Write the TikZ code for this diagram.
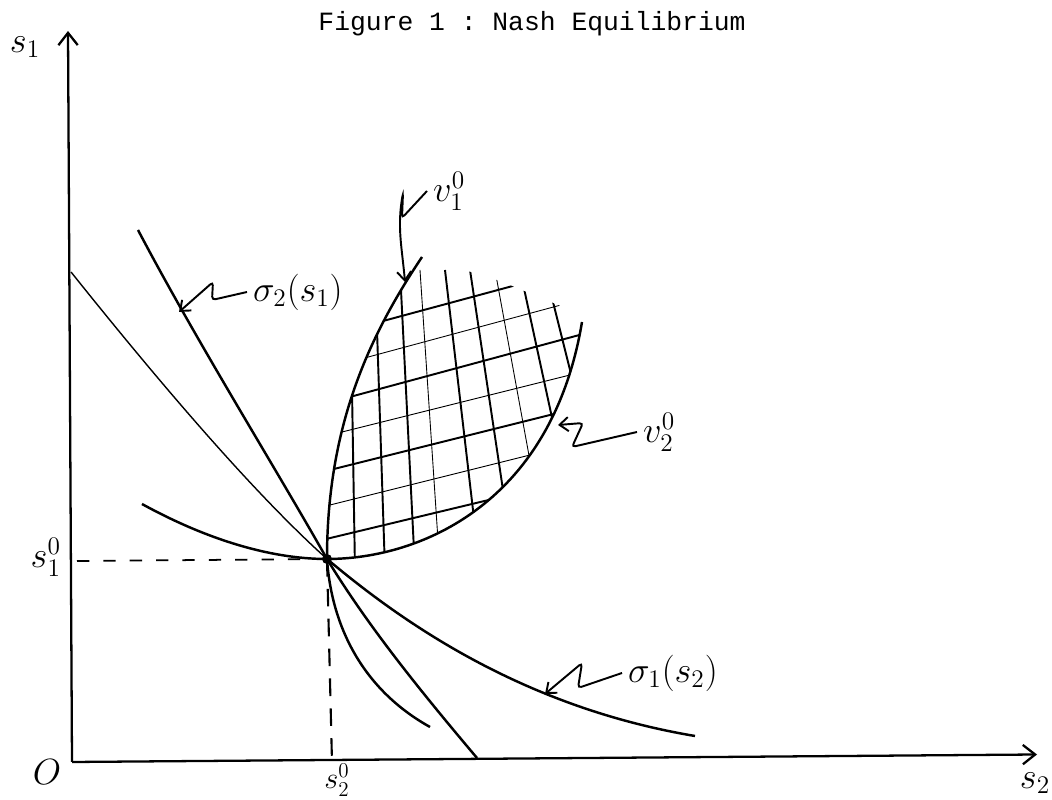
\documentclass[tikz,border=0pt]{standalone}
\usepackage{fontspec}
\setmonofont{Liberation Mono}
\usepackage{amsmath}
\usetikzlibrary{arrows.meta}

\tikzset{
  axis/.style={line width=1.3pt, -{Straight Barb[length=7pt,width=11pt,line width=1.3pt]}},
  curve/.style={line width=1.4pt},
  thincurve/.style={line width=0.8pt},
  leader/.style={line width=1.1pt, rounded corners=2pt, -{Straight Barb[length=5pt,width=8pt,line width=1.1pt]}},
  hatchA/.style={line width=1.1pt},
  hatchB/.style={line width=0.5pt},
  lbl/.style={font=\huge},
}

\begin{document}
\begin{tikzpicture}
            \useasboundingbox (-1.44,-0.76) rectangle (19.6,15.24);

            % title
            \node[font=\ttfamily\fontsize{15}{18}\selectfont] (title) at (9.2,14.76) {Figure 1 : Nash Equilibrium};

            % axes
            \coordinate (orig) at (0,0);
            \draw[axis] (orig) -- (-0.08,14.62);
            \draw[axis] (orig) -- (19.3,0.15);
            \node[lbl] (ylbl) at (-0.94,14.3) {$s_1$};
            \node[lbl] (xlbl) at (19.26,-0.42) {$s_2$};
            \node[lbl] (olbl) at (-0.5,-0.2) {$O$};

            % equilibrium
            \coordinate (eq) at (5.1,4.06);
            \node[lbl, anchor=east] (s1eq) at (-0.1,4.1) {$s_1^0$};
            \node[font=\LARGE] (s2eq) at (5.3,-0.36) {$s_2^0$};
            \draw[line width=1pt, dashed, dash pattern=on 7pt off 8pt] (0.1,4.02) -- (eq);
            \draw[line width=1.2pt, dashed, dash pattern=on 10pt off 7pt] (eq) -- (5.2,0);

            % sigma_1(s_2)
            \draw[thincurve] (-0.02,9.8) .. controls (1.5,7.9) and (3.5,5.5) .. (eq);
            \draw[curve] (eq) .. controls (6.6,2.8) and (9,1.1) .. (12.46,0.52);

            % sigma_2(s_1)
            \draw[curve] (1.32,10.64) .. controls (2.5,8.4) and (4,6) .. (eq)
                         .. controls (5.9,2.75) and (6.9,1.5) .. (8.1,0.08);

            % v_2^0
            \draw[curve] (1.4,5.16) .. controls (2.6,4.5) and (3.9,4.06) .. (eq)
                         .. controls (7.0,4.06) and (9.6,5.2) .. (10.2,8.8);

            % v_1^0
            \draw[curve] (7.0,10.1) .. controls (6.0,8.6) and (5.1,6.8) .. (eq)
                         .. controls (5.2,2.6) and (5.9,1.4) .. (7.16,0.7);

            % hatching of the lens
            \begin{scope}
            \clip (eq) .. controls (5.1,6.8) and (6.0,8.6) .. (7.0,10.1)
              -- (8.56,9.62) -- (10.3,8.9) -- (10.2,8.8)
              .. controls (9.6,5.2) and (7.0,4.06) .. (eq) -- cycle;
            \draw[hatchA] (5,8.49) -- (11,10.11);
            \draw[hatchB] (5,7.85) -- (11,9.47);
            \draw[hatchA] (5,7.15) -- (11,8.77);
            \draw[hatchB] (5,6.5) -- (11,8.0);
            \draw[hatchA] (5,5.8) -- (11,7.3);
            \draw[hatchB] (5,5.1) -- (11,6.6);
            \draw[hatchA] (5,4.44) -- (11,5.88);
            \draw[hatchB] (5,3.84) -- (11,5.28);
            \draw[hatchA] (5.56,9.84) -- (5.66,3.84);
            \draw[hatchA] (6.06,9.84) -- (6.26,3.84);
            \draw[hatchA] (6.56,9.84) -- (6.86,3.84);
            \draw[hatchB] (6.96,9.84) -- (7.36,3.84);
            \draw[hatchA] (7.46,9.84) -- (8.16,3.84);
            \draw[hatchA] (7.96,9.84) -- (8.86,3.84);
            \draw[hatchB] (8.46,9.84) -- (9.56,3.84);
            \draw[hatchA] (8.96,9.84) -- (10.26,3.84);
            \draw[hatchA] (9.46,9.84) -- (10.96,3.84);
            \end{scope}

            \fill (eq) circle (0.1);

            % labels with leaders
            \node[lbl, anchor=west] (sig2) at (3.5,9.4) {$\sigma_2(s_1)$};
            \coordinate (sig2tip) at (2.14,9.0);
            \draw[leader] (sig2.west) -- (2.8,9.24) -- (2.82,9.6) -- (sig2tip);

            \node[lbl, anchor=west] (sig1) at (11.0,1.78) {$\sigma_1(s_2)$};
            \coordinate (sig1tip) at (9.46,1.36);
            \draw[leader] (sig1.west) -- (10.12,1.48) -- (10.2,1.98) -- (sig1tip);

            \node[lbl, anchor=west] (v1) at (7.1,11.42) {$v_1^0$};
            \coordinate (v1tip) at (6.66,9.6);
            \draw[leader] (v1.west) -- (6.6,10.88) -- (6.62,11.38) to[out=-100,in=95] (v1tip);

            \node[lbl, anchor=west] (v2) at (11.3,6.6) {$v_2^0$};
            \coordinate (v2tip) at (9.72,6.74);
            \draw[leader] (v2.west) -- (10.0,6.3) -- (10.22,6.78) -- (v2tip);

        \end{tikzpicture}
\end{document}
